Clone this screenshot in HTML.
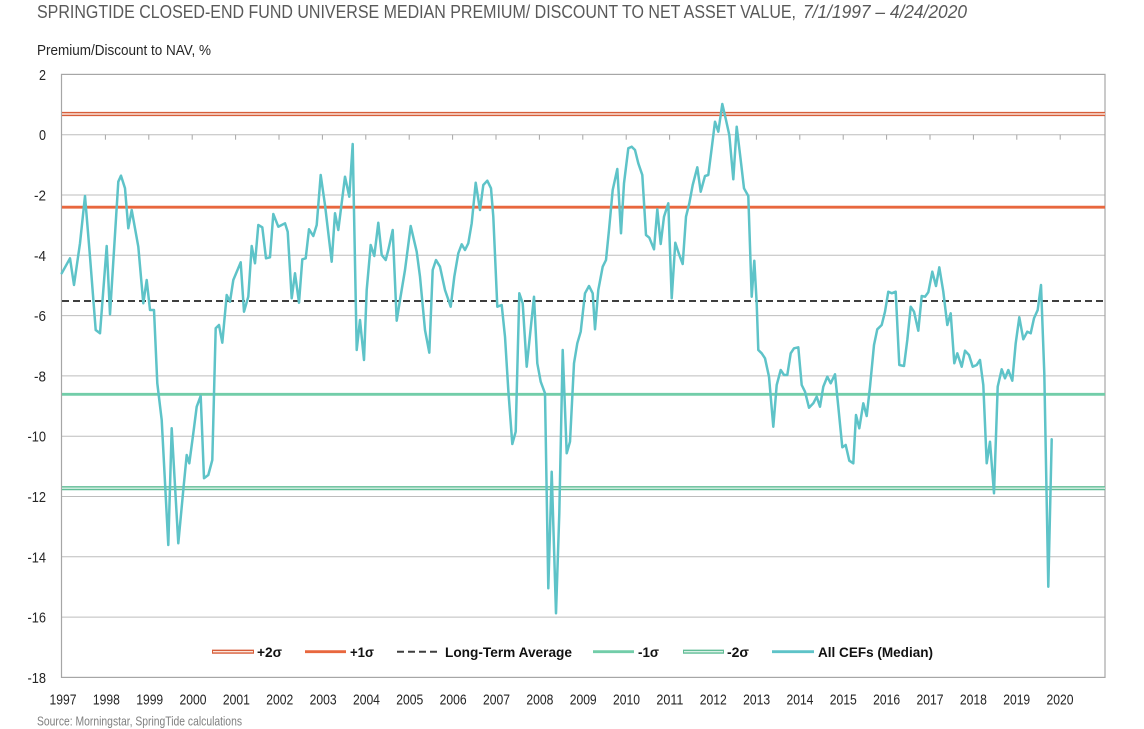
<!DOCTYPE html>
<html>
<head>
<meta charset="utf-8">
<style>
  html,body{margin:0;padding:0;background:#ffffff;}
  svg{display:block;}
  text{font-family:"Liberation Sans Narrow","Liberation Sans",Arial,sans-serif;}
</style>
</head>
<body>
<svg width="1144" height="729" viewBox="0 0 1144 729" xmlns="http://www.w3.org/2000/svg">
  <rect x="0" y="0" width="1144" height="729" fill="#ffffff"/>

  <!-- Title -->
  <text x="37" y="18" font-size="18" fill="#595959" textLength="759" lengthAdjust="spacingAndGlyphs">SPRINGTIDE CLOSED-END FUND UNIVERSE MEDIAN PREMIUM/ DISCOUNT TO NET ASSET VALUE,</text>
  <text x="803" y="18" font-size="18" fill="#595959" font-style="italic" textLength="164" lengthAdjust="spacingAndGlyphs">7/1/1997 – 4/24/2020</text>

  <!-- Axis title -->
  <text x="37" y="55" font-size="15" fill="#262626" textLength="174" lengthAdjust="spacingAndGlyphs">Premium/Discount to NAV, %</text>

  <!-- Gridlines -->
  <g stroke="#BDBDBD" stroke-width="1">
    <line x1="62" y1="134.7" x2="1105" y2="134.7"/>
    <line x1="62" y1="195.0" x2="1105" y2="195.0"/>
    <line x1="62" y1="255.3" x2="1105" y2="255.3"/>
    <line x1="62" y1="315.6" x2="1105" y2="315.6"/>
    <line x1="62" y1="375.9" x2="1105" y2="375.9"/>
    <line x1="62" y1="436.2" x2="1105" y2="436.2"/>
    <line x1="62" y1="496.5" x2="1105" y2="496.5"/>
    <line x1="62" y1="556.8" x2="1105" y2="556.8"/>
    <line x1="62" y1="617.1" x2="1105" y2="617.1"/>
  </g>

  <!-- Ticks on zero line -->
  <g stroke="#A6A6A6" stroke-width="1">
    <line x1="105.4" y1="134.7" x2="105.4" y2="139.7"/>
    <line x1="148.8" y1="134.7" x2="148.8" y2="139.7"/>
    <line x1="192.2" y1="134.7" x2="192.2" y2="139.7"/>
    <line x1="235.6" y1="134.7" x2="235.6" y2="139.7"/>
    <line x1="279" y1="134.7" x2="279" y2="139.7"/>
    <line x1="322.4" y1="134.7" x2="322.4" y2="139.7"/>
    <line x1="365.8" y1="134.7" x2="365.8" y2="139.7"/>
    <line x1="409.2" y1="134.7" x2="409.2" y2="139.7"/>
    <line x1="452.6" y1="134.7" x2="452.6" y2="139.7"/>
    <line x1="496" y1="134.7" x2="496" y2="139.7"/>
    <line x1="539.4" y1="134.7" x2="539.4" y2="139.7"/>
    <line x1="582.8" y1="134.7" x2="582.8" y2="139.7"/>
    <line x1="626.2" y1="134.7" x2="626.2" y2="139.7"/>
    <line x1="669.6" y1="134.7" x2="669.6" y2="139.7"/>
    <line x1="713" y1="134.7" x2="713" y2="139.7"/>
    <line x1="756.4" y1="134.7" x2="756.4" y2="139.7"/>
    <line x1="799.8" y1="134.7" x2="799.8" y2="139.7"/>
    <line x1="843.2" y1="134.7" x2="843.2" y2="139.7"/>
    <line x1="886.6" y1="134.7" x2="886.6" y2="139.7"/>
    <line x1="930" y1="134.7" x2="930" y2="139.7"/>
    <line x1="973.4" y1="134.7" x2="973.4" y2="139.7"/>
    <line x1="1016.8" y1="134.7" x2="1016.8" y2="139.7"/>
    <line x1="1060.2" y1="134.7" x2="1060.2" y2="139.7"/>
  </g>

  <!-- Plot border -->
  <rect x="61.5" y="74.4" width="1043.5" height="603" fill="none" stroke="#A6A6A6" stroke-width="1.2"/>

  <!-- Reference lines -->
  <line x1="62" y1="114" x2="1105" y2="114" stroke="#D75E3A" stroke-width="4.2"/>
  <line x1="62" y1="114" x2="1105" y2="114" stroke="#FBE4DA" stroke-width="1.4"/>
  <line x1="62" y1="207.2" x2="1105" y2="207.2" stroke="#E8673E" stroke-width="2.8"/>
  <line x1="62" y1="301" x2="1105" y2="301" stroke="#3F3F3F" stroke-width="2" stroke-dasharray="7 4"/>
  <line x1="62" y1="394.3" x2="1105" y2="394.3" stroke="#72CDA9" stroke-width="2.8"/>
  <line x1="62" y1="488.2" x2="1105" y2="488.2" stroke="#62BD97" stroke-width="4.2"/>
  <line x1="62" y1="488.2" x2="1105" y2="488.2" stroke="#D8F1E6" stroke-width="1.4"/>

  <!-- Series -->
  <polyline fill="none" stroke="#5EC3C8" stroke-width="2.5" stroke-linejoin="round" stroke-linecap="round" points="
61.7,273.3 70,258.3 74,285 80,243.3 85,196 90,256.7 95.7,330 100,333.3 106.7,246 110,314.3
118.3,181.7 121,175.7 125,188.3 128.3,228.3 131.7,210 138.3,246.7 143.3,303.3 146.7,280 150,310 154,310
157.3,383.3 161.7,420 168.3,545 171.7,428.3 178.3,543.3 183.3,490 186.7,455 189.3,463.3 193.3,433.3 196.7,406.7
200.7,396 204,478.3 208.3,475 212.3,460 215.7,328.3 219,325 222.3,342.7 226.7,295 230,301.7 233.3,280
240.7,262.3 244,311.7 248.3,296.7 251.7,246 255,263.3 258.3,225 262.3,227.3 266,258.3 270,257.3 273.3,214
278.3,226.7 281.7,225 285,223.3 287.7,231.7 291.7,298.3 295,273.3 299,302.7 302.3,259.3 305.7,258.3 309,229.3
313.3,236 316.7,225 320.7,175 325,205 331.7,261.7 335,213.3 338.3,230 345,176.7 349.3,196.7 352.7,144
356.7,350 360,320 364,360 366.7,290 370.7,245 374.3,256 378.3,222.7 381.7,255 385.7,260 388.3,250
392.7,230 396.7,320.7 400,300 405,270 410.7,226 416.7,251.7 420,276.7 425,330 429.3,352.7 432.7,270
436,260 440,266.7 445,290 450.7,306.7 454.3,276.7 458.3,253.3 461.7,244.3 465,250 468.3,243.3 471.7,223.3
475.7,182.7 480,210 483.3,185 487.3,180.7 491,188.3 493.3,216.7 497.3,306.7 501.7,305 505,336.7 508.3,390
512.3,444 515.7,431.7 519.3,293.3 522.7,303.3 526.7,366.7 534,296.7 537.3,363.3 540.7,381.7 545,393.3 548.3,588.3
551.7,471.7 556,613.3 559.3,513.3 562.7,350 566.7,453.3 570,441.7 574,363.3 577.3,343.3 580.7,331.7 585,293.3
589,286 592.7,293.3 595,329.3 598.3,290 602.7,266.7 606,260 609,230 612.7,190 617.3,169 621,233.3
624,183.3 628.3,148.3 631.7,146.7 635,150 638.3,163.3 642.3,175 646,235 649.3,237.7 654,249.3 657.3,209.3
660.7,244 664,216.7 668.3,203.3 671.7,298.3 675.3,242.7 679.3,255 682.7,264 686,216.7 689.3,203.3 692.7,185
697.3,167.3 700.7,191.7 705,176 708.3,175 711.7,148.3 715,121.7 718.3,131.7 722.3,104 726,120 729.3,135
733.3,179.3 736.7,126.7 740.7,160 744,188.3 748.3,196 751.7,296.7 754.3,260.7 756.7,303.3 758.3,350 761.7,353.3
765,358.3 769,376.7 773.3,426.7 776.7,385 780.7,370 784,375 787.3,375 790.7,353.3 794,348.3 798.3,347.3
801.7,385 805,391.7 809,407.7 813.3,403.3 816.7,396.7 820,406.7 823.3,386.7 827.3,376.7 830.7,383.3 835,374.3
838.3,406.7 842.3,447.3 845.7,445 849.3,460.7 853.3,463.3 856,415 859.3,428.3 863.3,403.3 866.7,416 870,386.7
874,345 877.3,329.3 881.7,325 885,311.7 888.3,291.7 891.7,293.3 895.7,291.7 899.3,365 904,366 907.3,340
910.7,306.7 914,311.7 918.3,330.7 921.7,296 925,296.7 928.3,292.3 932.3,271.7 936,286 939.3,267.3 943.3,291.7
947.3,325 950.7,313.3 954.3,363.3 957.3,353.3 961.7,366.7 965,350.7 969,355 972.7,366.7 976.7,365 980,360
983.3,385 986.7,463.3 990,441.7 994,493.3 997.7,386.7 1001.7,369.3 1005,378.3 1008.3,370 1012.3,380.7 1015.7,343.3
1019.3,317.3 1023.3,339.3 1027.3,331.7 1030.7,333.3 1034,318.3 1037.7,310 1041,285 1044.3,373.3 1048.3,586.7 1051.7,439.3"/>

  <!-- Y axis labels -->
  <g font-size="15" fill="#262626" text-anchor="end">
    <text x="46" y="79.9" textLength="7" lengthAdjust="spacingAndGlyphs">2</text>
    <text x="46" y="140.2" textLength="7" lengthAdjust="spacingAndGlyphs">0</text>
    <text x="46" y="200.5" textLength="12" lengthAdjust="spacingAndGlyphs">-2</text>
    <text x="46" y="260.8" textLength="12" lengthAdjust="spacingAndGlyphs">-4</text>
    <text x="46" y="321.1" textLength="12" lengthAdjust="spacingAndGlyphs">-6</text>
    <text x="46" y="381.4" textLength="12" lengthAdjust="spacingAndGlyphs">-8</text>
    <text x="46" y="441.7" textLength="18.5" lengthAdjust="spacingAndGlyphs">-10</text>
    <text x="46" y="502" textLength="18.5" lengthAdjust="spacingAndGlyphs">-12</text>
    <text x="46" y="562.3" textLength="18.5" lengthAdjust="spacingAndGlyphs">-14</text>
    <text x="46" y="622.6" textLength="18.5" lengthAdjust="spacingAndGlyphs">-16</text>
    <text x="46" y="682.9" textLength="18.5" lengthAdjust="spacingAndGlyphs">-18</text>
  </g>

  <!-- X axis labels -->
  <g font-size="15" fill="#262626" text-anchor="middle">
    <text x="63" y="704.5" textLength="27" lengthAdjust="spacingAndGlyphs">1997</text>
    <text x="106.35" y="704.5" textLength="27" lengthAdjust="spacingAndGlyphs">1998</text>
    <text x="149.7" y="704.5" textLength="27" lengthAdjust="spacingAndGlyphs">1999</text>
    <text x="193.05" y="704.5" textLength="27" lengthAdjust="spacingAndGlyphs">2000</text>
    <text x="236.4" y="704.5" textLength="27" lengthAdjust="spacingAndGlyphs">2001</text>
    <text x="279.75" y="704.5" textLength="27" lengthAdjust="spacingAndGlyphs">2002</text>
    <text x="323.1" y="704.5" textLength="27" lengthAdjust="spacingAndGlyphs">2003</text>
    <text x="366.45" y="704.5" textLength="27" lengthAdjust="spacingAndGlyphs">2004</text>
    <text x="409.8" y="704.5" textLength="27" lengthAdjust="spacingAndGlyphs">2005</text>
    <text x="453.15" y="704.5" textLength="27" lengthAdjust="spacingAndGlyphs">2006</text>
    <text x="496.5" y="704.5" textLength="27" lengthAdjust="spacingAndGlyphs">2007</text>
    <text x="539.85" y="704.5" textLength="27" lengthAdjust="spacingAndGlyphs">2008</text>
    <text x="583.2" y="704.5" textLength="27" lengthAdjust="spacingAndGlyphs">2009</text>
    <text x="626.55" y="704.5" textLength="27" lengthAdjust="spacingAndGlyphs">2010</text>
    <text x="669.9" y="704.5" textLength="27" lengthAdjust="spacingAndGlyphs">2011</text>
    <text x="713.25" y="704.5" textLength="27" lengthAdjust="spacingAndGlyphs">2012</text>
    <text x="756.6" y="704.5" textLength="27" lengthAdjust="spacingAndGlyphs">2013</text>
    <text x="799.95" y="704.5" textLength="27" lengthAdjust="spacingAndGlyphs">2014</text>
    <text x="843.3" y="704.5" textLength="27" lengthAdjust="spacingAndGlyphs">2015</text>
    <text x="886.65" y="704.5" textLength="27" lengthAdjust="spacingAndGlyphs">2016</text>
    <text x="930" y="704.5" textLength="27" lengthAdjust="spacingAndGlyphs">2017</text>
    <text x="973.35" y="704.5" textLength="27" lengthAdjust="spacingAndGlyphs">2018</text>
    <text x="1016.7" y="704.5" textLength="27" lengthAdjust="spacingAndGlyphs">2019</text>
    <text x="1060.05" y="704.5" textLength="27" lengthAdjust="spacingAndGlyphs">2020</text>
  </g>

  <!-- Legend -->
  <g>
    <line x1="212" y1="651.7" x2="254" y2="651.7" stroke="#D75E3A" stroke-width="4.2"/>
    <line x1="213" y1="651.7" x2="253" y2="651.7" stroke="#FBE4DA" stroke-width="1.4"/>
    <line x1="305" y1="651.7" x2="346" y2="651.7" stroke="#E8673E" stroke-width="2.8"/>
    <line x1="397" y1="651.7" x2="440" y2="651.7" stroke="#3F3F3F" stroke-width="2" stroke-dasharray="7 4"/>
    <line x1="593" y1="651.7" x2="634" y2="651.7" stroke="#72CDA9" stroke-width="2.8"/>
    <line x1="683" y1="651.7" x2="724" y2="651.7" stroke="#62BD97" stroke-width="4.2"/>
    <line x1="684" y1="651.7" x2="723" y2="651.7" stroke="#D8F1E6" stroke-width="1.4"/>
    <line x1="772" y1="651.7" x2="814" y2="651.7" stroke="#5EC3C8" stroke-width="2.8"/>
  </g>
  <g font-size="14" font-weight="bold" fill="#111111">
    <text x="257" y="657" textLength="25" lengthAdjust="spacingAndGlyphs">+2σ</text>
    <text x="350" y="657" textLength="24" lengthAdjust="spacingAndGlyphs">+1σ</text>
    <text x="445" y="657" textLength="127" lengthAdjust="spacingAndGlyphs">Long-Term Average</text>
    <text x="638" y="657" textLength="21" lengthAdjust="spacingAndGlyphs">-1σ</text>
    <text x="727" y="657" textLength="22" lengthAdjust="spacingAndGlyphs">-2σ</text>
    <text x="818" y="657" textLength="115" lengthAdjust="spacingAndGlyphs">All CEFs (Median)</text>
  </g>

  <!-- Source -->
  <text x="37" y="725.5" font-size="12.5" fill="#808080" textLength="205" lengthAdjust="spacingAndGlyphs">Source: Morningstar, SpringTide calculations</text>
</svg>
</body>
</html>
